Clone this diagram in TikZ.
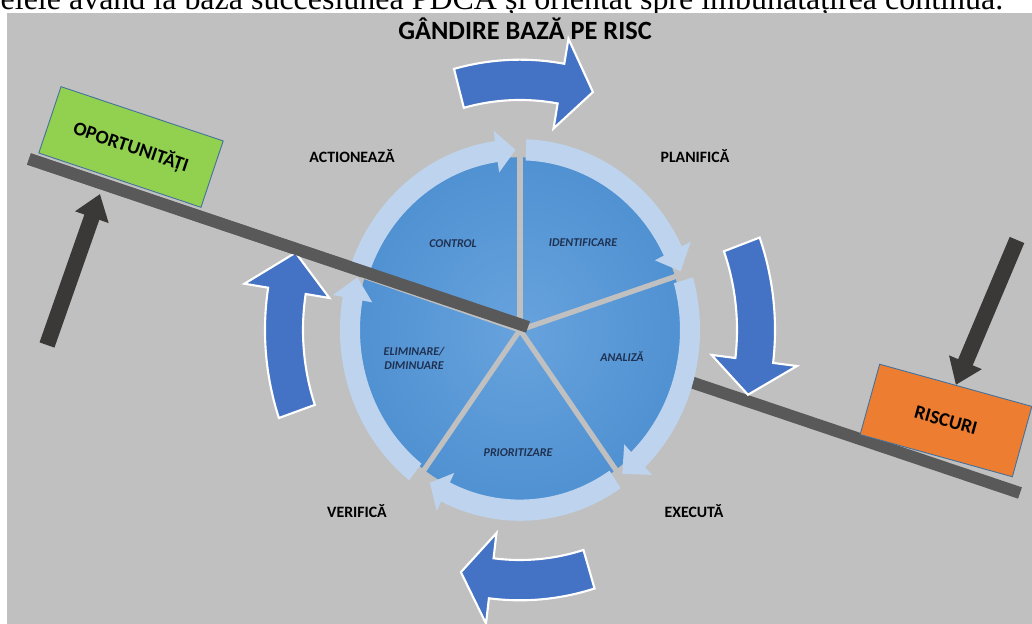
\documentclass[tikz,border=0pt]{standalone}
\usepackage{fontspec}
\newfontfamily\calibri{Carlito}
\newfontfamily\timesfont{Liberation Serif}
\usetikzlibrary{arrows.meta}
\definecolor{bggray}{HTML}{C0C0C0}
\definecolor{beamgray}{HTML}{595959}
\definecolor{pushgray}{HTML}{3B3838}
\definecolor{turnblue}{HTML}{4472C4}
\definecolor{pieblue}{HTML}{5091D2}
\definecolor{pielight}{HTML}{67A3DD}
\definecolor{ringblue}{HTML}{BDD3EE}
\definecolor{oppgreen}{HTML}{92D050}
\definecolor{riskorange}{HTML}{ED7D31}
\definecolor{boxline}{HTML}{41719C}
\definecolor{labelnavy}{HTML}{1F3050}

\newcommand{\arcarrow}[7]{%
  \pgfmathsetmacro\aro{#5+#6}\pgfmathsetmacro\ari{#5-#6}%
  \pgfmathsetmacro\aho{#5+#7}\pgfmathsetmacro\ahi{#5-#7}%
  \draw[#1] (#2:\aro) arc[start angle=#2, end angle=#3, radius=\aro]
    -- (#3:\aho) -- (#4:#5) -- (#3:\ahi) -- (#3:\ari)
    arc[start angle=#3, end angle=#2, radius=\ari] -- cycle;}

\begin{document}
\begin{tikzpicture}[x=0.02cm, y=0.02cm, thick,
    stage/.style={font=\calibri\bfseries\fontsize{9}{10}\selectfont},
    part/.style={font=\calibri\bfseries\itshape\fontsize{6.8}{8}\selectfont,
      text=labelnavy, align=center},
    box/.style={draw=boxline, line width=0.5pt, minimum width=3.42cm,
      minimum height=1.4cm, font=\calibri\bfseries\fontsize{11}{13}\selectfont},
    beam/.style={draw=beamgray, line width=6.8pt},
    push/.style={draw=pushgray, line width=9pt, -{Triangle[width=19.3pt,length=14pt]}},
    turn/.style={fill=turnblue, draw=white, line width=1.2pt},
    ring/.style={fill=ringblue, draw=none},
    gapline/.style={draw=bggray, line width=3pt}]
    \useasboundingbox (0,0) rectangle (1032,624);
    \clip (0,0) rectangle (1032,624);
    \node[anchor=base west, inner sep=0pt, font=\timesfont\fontsize{18.2}{20}\selectfont]
      (topline) at (0,614) {elele având la bază succesiunea PDCA și orientat spre îmbunătățirea continuă.};
    \fill[bggray] (7,0) rectangle (1032,611);
    \node[font=\calibri\bfseries\fontsize{15}{17}\selectfont] (title) at (525,595) {GÂNDIRE BAZĂ PE RISC};

    \coordinate (beamL) at (29,465);
    \coordinate (beamR) at (1020,131);
    \coordinate (pivot) at (528,297);
    \draw[beam] (beamL) -- (beamR);
    \node[box, fill=oppgreen, rotate=-18.5] (opp) at (131,477) {OPORTUNITĂȚI};
    \node[box, fill=riskorange, minimum width=3.16cm, minimum height=1.46cm, rotate=-15.5]
      (risk) at (946,203.5) {RISCURI};

    \coordinate (liftfoot) at (47,279);
    \coordinate (lifttip) at (100,430);
    \coordinate (pressfoot) at (1017,384);
    \draw[push] (liftfoot) -- (lifttip);
    \draw[push] (pressfoot) -- (risk.north);

    \begin{scope}[shift={(520,294)}, yscale=1.06]
      \shade[inner color=pielight, outer color=pieblue] (0,0) circle (163);
      \foreach \a in {90,18,-54,-126,162}
        \draw[gapline] (0,0) -- (\a:166);
      \arcarrow{ring}{160}{98}{91.5}{170}{10}{20}
      \arcarrow{ring}{88}{26}{19}{170}{10}{20}
      \arcarrow{ring}{16}{-46}{-53}{170}{10}{20}
      \arcarrow{ring}{-56}{-116}{-122}{170}{10}{20}
      \arcarrow{ring}{-128}{-190}{-197}{170}{10}{20}
      \arcarrow{turn}{105}{80}{72}{236}{19}{43}
      \arcarrow{turn}{20}{-7}{-15}{236}{19}{43}
      \arcarrow{turn}{-73}{-97}{-104.5}{236}{19}{43}
      \arcarrow{turn}{199}{171}{162}{236}{19}{43}
    \end{scope}
    \draw[beam] (beamL) -- (pivot);

    \node[part] (control) at (453,380) {CONTROL};
    \node[part] (ident) at (583,381) {IDENTIFICARE};
    \node[part] (analiza) at (622,267) {ANALIZĂ};
    \node[part] (prior) at (518,171) {PRIORITIZARE};
    \node[part] (elim) at (414,266) {ELIMINARE/\\DIMINUARE};

    \node[stage] (act) at (352,468) {ACTIONEAZĂ};
    \node[stage] (plan) at (695,468) {PLANIFICĂ};
    \node[stage] (ver) at (357,113) {VERIFICĂ};
    \node[stage] (exe) at (694,113) {EXECUTĂ};
\end{tikzpicture}
\end{document}
